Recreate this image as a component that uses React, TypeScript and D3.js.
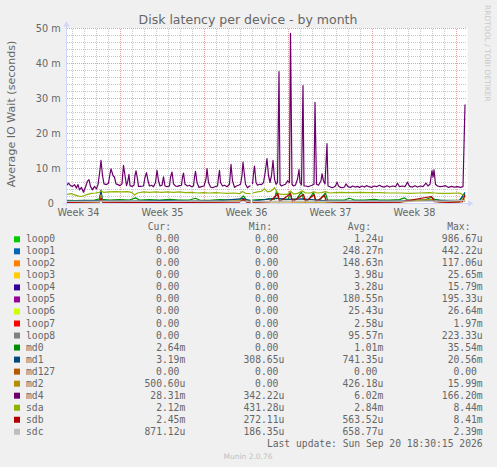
import React from 'react';
import * as d3 from 'd3';

const W = 497;
const H = 467;
const START = Date.UTC(2026, 7, 18, 12);
const SPAN_HOURS = 800;

const title = 'Disk latency per device - by month';
const yAxisLabel = 'Average IO Wait (seconds)';
const yTicks = [0, 10, 20, 30, 40, 50];
const yTickLabels = ['0', '10 m', '20 m', '30 m', '40 m', '50 m'];
const yMinorStep = 2;
const weekLabels = ['Week 34', 'Week 35', 'Week 36', 'Week 37', 'Week 38'];
const weekMidDates = ['2026-08-19T12:00Z', '2026-08-26T12:00Z', '2026-09-02T12:00Z', '2026-09-09T12:00Z', '2026-09-16T12:00Z'];
const weekStartDates = ['2026-08-23T00:00Z', '2026-08-30T00:00Z', '2026-09-06T00:00Z', '2026-09-13T00:00Z', '2026-09-20T00:00Z'];

type Pt = [number, number | null];

// [hours since start, ms]
const zeroSeries: Pt[] = [[0, 0], [368, 0], [370, null], [372, 0], [797, 0]];

const md0: Pt[] = [[0, 0.9], [16, 0.8], [36, 0.9], [56, 1.0], [66, 1.3], [69, 3.5], [71, 1.2], [86, 1.0], [106, 1.1], [126, 1.0], [138, 1.6], [146, 1.0], [166, 1.1], [186, 1.0], [206, 1.2], [226, 1.0], [246, 1.0], [258, 1.5], [266, 1.0], [286, 0.9], [306, 1.1], [326, 1.0], [346, 1.0], [354, 2.2], [360, 1.0], [368, 1.0], [370, null], [372, 1.0], [386, 1.1], [398, 1.2], [406, 1.4], [416, 1.2], [420, 3.6], [424, 1.4], [436, 1.1], [444, 1.2], [447, 3.5], [450, 1.2], [460, 1.2], [470, 3.4], [474, 1.2], [484, 1.0], [494, 3.2], [498, 1.0], [506, 1.0], [518, 3.0], [522, 1.0], [536, 1.0], [556, 1.0], [566, 1.5], [576, 1.0], [596, 1.0], [616, 1.2], [626, 1.0], [646, 1.0], [666, 1.1], [676, 1.6], [682, 1.0], [696, 1.0], [716, 1.0], [730, 1.8], [736, 1.2], [746, 1.0], [766, 0.9], [786, 1.0], [797, 2.64]];

const md1: Pt[] = [[0, 0.7], [46, 0.8], [66, 0.9], [69, 3.8], [72, 0.8], [126, 0.7], [186, 0.8], [246, 0.7], [306, 0.8], [354, 1.4], [368, 0.7], [370, null], [372, 0.7], [420, 1.5], [446, 1.2], [472, 1.3], [526, 0.7], [586, 0.7], [666, 0.7], [730, 1.0], [786, 0.7], [797, 3.19]];

const md2: Pt[] = [[0, 0.3], [66, 0.4], [69, 2.5], [72, 0.4], [126, 0.4], [186, 0.3], [246, 0.4], [306, 0.4], [354, 1.0], [368, 0.4], [370, null], [372, 0.4], [426, 0.5], [466, 0.4], [526, 0.4], [586, 0.3], [666, 0.4], [730, 1.2], [746, 0.4], [786, 0.4], [794, 1.5], [797, 0.5]];

const md4: Pt[] = [[0, 5.1], [4, 5.8], [8, 5.1], [12, 4.9], [16, 5.4], [20, 4.4], [23, 5.4], [26, 3.9], [30, 4.6], [34, 3.2], [38, 4.7], [42, 6.4], [45, 6.8], [48, 4.9], [52, 3.9], [56, 4.9], [60, 4.2], [63, 5.4], [66, 8.5], [69, 12.3], [72, 8], [75, 5.6], [80, 5.4], [84, 5.8], [87, 8.5], [89, 9.9], [93, 8], [96, 7.5], [99, 5.6], [103, 5.4], [107, 5.1], [111, 5.6], [112, 7.5], [114, 10.9], [117, 8], [120, 5.1], [122, 6], [125, 8.3], [127, 5.1], [131, 4.9], [135, 5.2], [137, 8], [139, 9.3], [142, 7], [144, 4.9], [149, 4.9], [154, 5], [157, 7.5], [160, 8.8], [163, 6.5], [166, 5], [170, 5.2], [174, 4.8], [178, 6], [181, 9.5], [184, 6.5], [187, 5], [191, 5.2], [194, 7.6], [197, 5], [201, 4.8], [206, 5], [208, 7.5], [211, 9], [214, 5.6], [218, 5], [222, 4.9], [226, 5.1], [230, 5.2], [232, 7.5], [234, 8.7], [237, 5.5], [242, 5], [246, 5.2], [250, 4.8], [254, 5], [256, 7.5], [258, 9.2], [261, 6], [265, 4.6], [270, 4.8], [275, 5], [279, 7], [281, 10], [284, 6], [288, 4.7], [292, 4.5], [297, 4.8], [302, 5], [304, 7.5], [306, 9.5], [308, 6], [312, 5], [316, 5.2], [321, 4.8], [326, 5.5], [329, 11.2], [332, 6.5], [336, 4.6], [340, 5], [344, 5.2], [348, 5.5], [351, 8], [353, 11.8], [356, 8], [358, 5.5], [362, 4.5], [366, 5], [368, 5], [370, null], [372, 5.5], [374, 8.5], [376, 10.7], [379, 6], [382, 5.2], [386, 5.5], [390, 5.4], [394, 6], [397, 8.5], [401, 12.8], [404, 8], [407, 6], [410, 8], [413, 12.3], [416, 7], [419, 5.5], [422, 6], [425, 37.7], [427, 5.5], [430, 5], [434, 5.3], [438, 5.5], [442, 6.5], [446, 6], [448, 48.6], [451, 5.5], [454, 5], [458, 5.3], [462, 7], [465, 9.7], [467, 6], [470, 5.3], [473, 33.7], [475, 5], [479, 5], [483, 4.8], [487, 5], [491, 5.2], [495, 5.5], [497, 28.9], [500, 5.5], [504, 5.2], [509, 6.5], [511, 8.5], [514, 6.5], [517, 5.6], [521, 17.1], [523, 5], [527, 4.8], [531, 4.5], [535, 4.7], [538, 5], [541, 6.1], [544, 5], [548, 4.6], [552, 4.5], [556, 4.7], [559, 5.6], [563, 4.8], [568, 4.6], [572, 5], [577, 4.7], [582, 4.9], [586, 4.6], [591, 5], [596, 4.7], [600, 5.1], [605, 4.8], [610, 4.6], [615, 5], [620, 4.8], [626, 5.2], [631, 4.8], [636, 4.7], [641, 5.1], [646, 4.7], [652, 5], [658, 4.8], [662, 5.8], [666, 4.8], [672, 5], [677, 4.8], [682, 6.1], [686, 4.9], [692, 4.7], [697, 5.1], [702, 4.7], [708, 5], [713, 4.8], [719, 5.8], [723, 5], [727, 5.5], [731, 9.4], [733, 7.5], [735, 9.6], [738, 5.5], [742, 5], [747, 4.8], [752, 4.9], [758, 5.1], [764, 4.6], [770, 4.9], [776, 4.7], [782, 4.8], [788, 4.6], [793, 4.8], [797, 28.3]];

const sda: Pt[] = [[0, 2.6], [10, 2.8], [18, 2.4], [24, 2.1], [30, 2.0], [36, 2.3], [42, 2.6], [50, 2.9], [58, 3.0], [66, 3.2], [69, 3.6], [74, 3.2], [86, 3.3], [98, 3.4], [110, 3.3], [122, 3.4], [130, 3.2], [136, 2.4], [142, 3.0], [154, 3.3], [166, 3.2], [178, 3.3], [190, 3.2], [202, 3.3], [214, 3.2], [226, 3.3], [238, 3.1], [250, 3.2], [262, 3.0], [274, 3.1], [286, 3.0], [298, 3.1], [310, 3.0], [322, 2.9], [334, 3.0], [346, 2.8], [352, 3.4], [358, 2.9], [368, 2.8], [370, null], [372, 3.0], [382, 3.3], [390, 3.5], [396, 4.2], [402, 3.3], [410, 3.6], [416, 4.5], [422, 3.0], [428, 2.6], [436, 2.6], [442, 2.6], [448, 3.5], [454, 2.7], [462, 2.9], [472, 3.6], [478, 3.0], [486, 3.0], [496, 3.3], [502, 3.0], [510, 3.1], [518, 3.4], [526, 3.0], [536, 3.1], [546, 3.2], [566, 3.1], [586, 3.2], [606, 3.1], [626, 3.1], [646, 3.0], [666, 3.0], [686, 2.9], [706, 3.0], [726, 3.1], [736, 3.0], [746, 2.9], [766, 2.9], [786, 3.0], [797, 2.12]];

const sdb: Pt[] = [[0, 0.3], [26, 0.4], [66, 0.5], [69, 1.5], [72, 0.4], [126, 0.3], [186, 0.4], [246, 0.3], [306, 0.4], [346, 0.4], [354, 1.2], [360, 0.4], [368, 0.4], [370, null], [372, 0.4], [406, 0.5], [423, 2.8], [426, 0.5], [448, 2.8], [452, 0.5], [474, 2.6], [478, 0.5], [495, 2.5], [499, 0.5], [516, 2.3], [520, 0.5], [546, 0.4], [606, 0.3], [666, 0.4], [730, 2.0], [736, 0.5], [766, 0.3], [792, 0.5], [797, 2.45]];

const sdc: Pt[] = [[0, 0.6], [100, 0.7], [200, 0.6], [300, 0.7], [368, 0.65], [370, null], [372, 0.6], [450, 0.7], [550, 0.6], [650, 0.65], [750, 0.7], [797, 0.87]];

const seriesNames = ['loop0', 'loop1', 'loop2', 'loop3', 'loop4', 'loop5', 'loop6', 'loop7', 'loop8', 'md0', 'md1', 'md127', 'md2', 'md4', 'sda', 'sdb', 'sdc'];
const seriesColors = ['#00CC00', '#0066B3', '#FF8000', '#FFCC00', '#330099', '#990099', '#CCFF00', '#FF0000', '#808080', '#008F00', '#00487D', '#B35A00', '#B38F00', '#6B006B', '#8FB300', '#B30000', '#BEBEBE'];
const seriesData: Pt[][] = [zeroSeries, zeroSeries, zeroSeries, zeroSeries, zeroSeries, zeroSeries, zeroSeries, zeroSeries, zeroSeries, md0, md1, zeroSeries, md2, md4, sda, sdb, sdc];

const curCol = ['0.00', '0.00', '0.00', '0.00', '0.00', '0.00', '0.00', '0.00', '0.00', '2.64m', '3.19m', '0.00', '500.60u', '28.31m', '2.12m', '2.45m', '871.12u'];
const minCol = ['0.00', '0.00', '0.00', '0.00', '0.00', '0.00', '0.00', '0.00', '0.00', '0.00', '308.65u', '0.00', '0.00', '342.22u', '431.28u', '272.11u', '186.35u'];
const avgCol = ['1.24u', '248.27n', '148.63n', '3.98u', '3.28u', '180.55n', '25.43u', '2.58u', '95.57n', '1.01m', '741.35u', '0.00', '426.18u', '6.02m', '2.84m', '563.52u', '658.77u'];
const maxCol = ['986.67u', '442.22u', '117.06u', '25.65m', '15.79m', '195.33u', '26.64m', '1.97m', '223.33u', '35.54m', '20.56m', '0.00', '15.99m', '166.20m', '8.44m', '8.41m', '2.39m'];
const colHeaders = ['Cur:', 'Min:', 'Avg:', 'Max:'];
const lastUpdate = 'Last update: Sun Sep 20 18:30:15 2026';
const version = 'Munin 2.0.76';
const watermark = 'RRDTOOL / TOBI OETIKER';

const SANS = "'DejaVu Sans', sans-serif";
const MONO = "'DejaVu Sans Mono', monospace";
const FONT_COLOR = '#666666';

export default function App() {
  const plotL = 66.5;
  const plotR = 466.5;
  const plotB = 203.5;
  const plotT = 28.5;
  const x = d3.scaleUtc().domain([new Date(START), new Date(START + SPAN_HOURS * 3600e3)]).range([plotL, plotR]);
  const y = d3.scaleLinear().domain([0, 50]).range([plotB, plotT]);
  const tx = (h: number) => x(new Date(START + h * 3600e3));

  const line = d3.line<Pt>()
    .defined((d) => d[1] !== null)
    .x((d) => tx(d[0]))
    .y((d) => y(d[1] as number));

  const days = d3.utcDay.range(new Date(START), new Date(START + SPAN_HOURS * 3600e3));
  const minorY = d3.range(0, 50 + 0.001, yMinorStep).filter((v) => v % 10 !== 0);
  const weekStarts = weekStartDates.map((s) => new Date(s));

  const legendTop = 242.3;
  const rowH = 12.03;
  const charW = 9.7 * 0.602;
  const colRight = [185.3, 284.3, 383.3, 482.7];
  const headerRight = [171, 272, 371, 470.5];
  const cols = [curCol, minCol, avgCol, maxCol];
  const valX = (s: string, ci: number) => (/[a-z]$/.test(s) ? colRight[ci] : colRight[ci] - charW);

  return (
    <svg width={W} height={H} style={{ position: 'absolute', left: 0, top: 0 }} xmlns="http://www.w3.org/2000/svg">
      <rect x={0} y={0} width={W} height={H} fill="#F0F0F0" />
      <rect x={plotL} y={plotT - 0.5} width={plotR - plotL + 1} height={plotB - plotT + 0.5} fill="#FFFFFF" />

      {/* minor grid */}
      <g stroke="#C8C8C8" strokeWidth={1} strokeDasharray="1,1" shapeRendering="crispEdges">
        {days.map((d, i) => (
          <line key={'vd' + i} x1={x(d)} x2={x(d)} y1={plotT} y2={plotB} />
        ))}
        {minorY.map((v, i) => (
          <line key={'hm' + i} x1={plotL} x2={plotR} y1={y(v)} y2={y(v)} />
        ))}
      </g>
      {/* major grid */}
      <g stroke="#E8A0A0" strokeWidth={1} strokeDasharray="1,1" shapeRendering="crispEdges">
        {weekStarts.map((d, i) => (
          <line key={'vw' + i} x1={x(d)} x2={x(d)} y1={plotT} y2={plotB} />
        ))}
        {yTicks.filter((v) => v > 0).map((v, i) => (
          <line key={'hM' + i} x1={plotL} x2={plotR} y1={y(v)} y2={y(v)} />
        ))}
      </g>

      {/* series */}
      <g fill="none" strokeWidth={1.2} strokeLinejoin="round">
        {seriesData.map((data, i) => (
          <path key={seriesNames[i]} d={line(data) || ''} stroke={seriesColors[i]} />
        ))}
      </g>

      {/* axes */}
      <g stroke="#CFD6F8" strokeWidth={1} shapeRendering="crispEdges">
        <line x1={plotL} x2={plotL} y1={206} y2={24} />
        <line x1={63} x2={470} y1={plotB} y2={plotB} />
      </g>
      <path d="M63.5,26.5 L69.5,26.5 L66.5,21 Z" fill="#CFD6F8" />
      <path d="M468,200.5 L468,206.5 L473.5,203.5 Z" fill="#CFD6F8" />

      {/* title */}
      <text x={248} y={24} textAnchor="middle" fontFamily={SANS} fontSize={12.5} fill={FONT_COLOR}>{title}</text>

      {/* y axis label */}
      <text transform="translate(15,114) rotate(-90)" textAnchor="middle" fontFamily={SANS} fontSize={11.1} fill={FONT_COLOR}>{yAxisLabel}</text>

      {/* y tick labels */}
      {yTicks.map((v, i) => (
        <text key={'yt' + i} x={v === 0 ? 54 : 60.7} y={y(v) + 3.6} textAnchor="end" fontFamily={SANS} fontSize={9.7} fill={FONT_COLOR}>{yTickLabels[i]}</text>
      ))}

      {/* x labels */}
      {weekLabels.map((lab, i) => (
        <text key={lab} x={x(new Date(weekMidDates[i]))} y={216} textAnchor="middle" fontFamily={SANS} fontSize={9.7} fill={FONT_COLOR}>{lab}</text>
      ))}

      {/* watermark */}
      <text transform="translate(485,5) rotate(90)" fontFamily={SANS} fontSize={7.5} fill="#C8C8C8">{watermark}</text>

      {/* legend */}
      <g fontFamily={MONO} fontSize={9.7} fill={FONT_COLOR}>
        {colHeaders.map((h, ci) => (
          <text key={h} x={headerRight[ci]} y={legendTop - rowH} textAnchor="end">{h}</text>
        ))}
        {seriesNames.map((name, i) => {
          const by = legendTop + i * rowH;
          return (
            <g key={'lg' + name}>
              <rect x={14} y={by - 6} width={6} height={6} fill={seriesColors[i]} />
              <text x={26} y={by}>{name}</text>
              {cols.map((col, ci) => (
                <text key={ci} x={valX(col[i], ci)} y={by} textAnchor="end">{col[i]}</text>
              ))}
            </g>
          );
        })}
        <text x={482.7} y={legendTop + seriesNames.length * rowH} textAnchor="end">{lastUpdate}</text>
      </g>

      <text x={248} y={459} textAnchor="middle" fontFamily={SANS} fontSize={7.5} fill="#C0C0C0">{version}</text>
    </svg>
  );
}
